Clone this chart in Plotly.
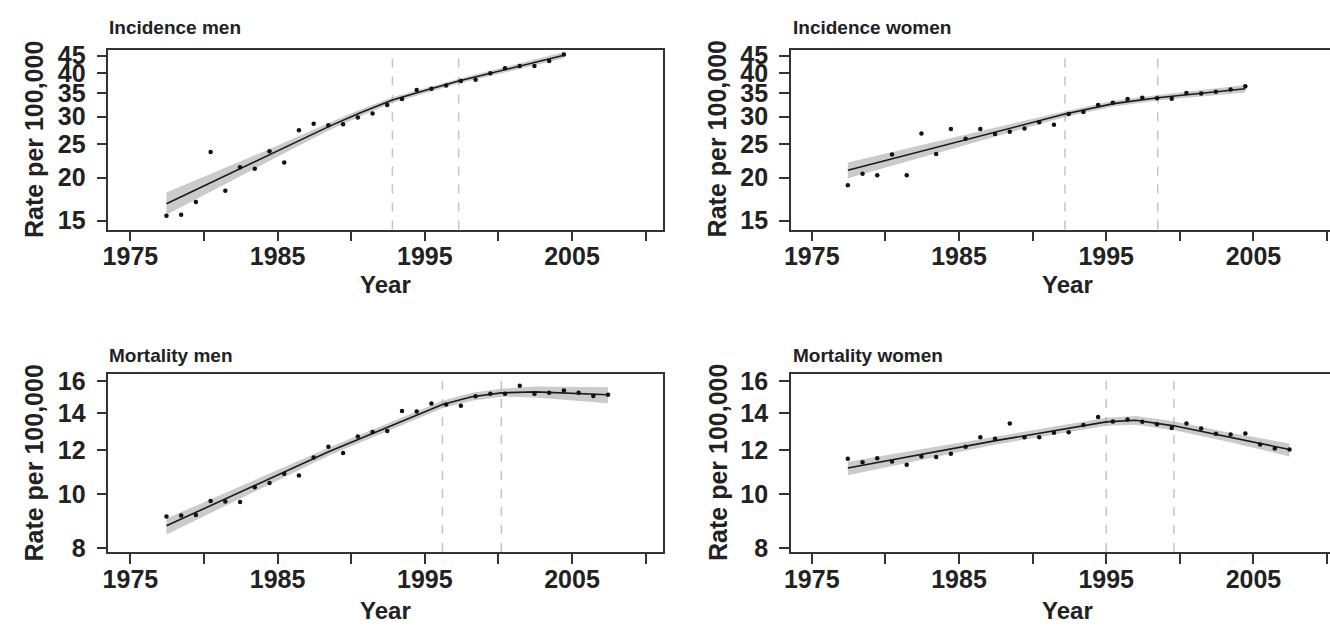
import math
import plotly.graph_objects as go

# ---------------------------------------------------------------------------
# Observed annual rates (per 100,000), plotted at mid-year
# ---------------------------------------------------------------------------
inc_years = list(range(1977, 2005))    # 1977 .. 2004
mort_years = list(range(1977, 2008))   # 1977 .. 2007

inc_men = [15.5, 15.6, 17.0, 23.7, 18.3, 21.4, 21.2, 23.8, 22.1, 27.4,
           28.6, 28.3, 28.5, 29.8, 30.6, 32.4, 33.7, 35.8, 36.1, 36.9,
           38.0, 38.3, 40.0, 41.4, 42.0, 42.0, 43.4, 45.3]
inc_women = [19.0, 20.5, 20.3, 23.3, 20.3, 26.8, 23.4, 27.6, 25.9, 27.6,
             26.7, 27.1, 27.7, 28.9, 28.4, 30.5, 30.9, 32.4, 32.9, 33.7,
             34.0, 33.9, 33.8, 35.1, 35.0, 35.4, 35.9, 36.7]
mort_men = [9.12, 9.16, 9.18, 9.73, 9.71, 9.69, 10.30, 10.48, 10.89, 10.82,
            11.65, 12.18, 11.87, 12.72, 12.96, 13.01, 14.14, 14.10, 14.58, 14.52,
            14.45, 15.02, 15.18, 15.18, 15.70, 15.18, 15.24, 15.39, 15.24, 15.04,
            15.12]
mort_women = [11.59, 11.43, 11.62, 11.46, 11.31, 11.70, 11.68, 11.84, 12.18, 12.68,
              12.60, 13.42, 12.68, 12.68, 12.91, 12.94, 13.34, 13.79, 13.53, 13.65,
              13.52, 13.38, 13.17, 13.42, 13.15, 12.86, 12.82, 12.88, 12.30, 12.10,
              12.05]

# ---------------------------------------------------------------------------
# Joinpoint fits: fitted rate with lower / upper confidence limits
# ---------------------------------------------------------------------------
inc_men_fit_x = [1977.45, 1984.5, 1988.5, 1990.5, 1992.8, 1995.0, 1997.3, 2004.45]
inc_men_fit = [16.8, 23.3, 28.1, 30.6, 33.5, 35.7, 38.0, 45.1]
inc_men_lo = [15.6, 22.4, 27.4, 29.9, 32.9, 35.1, 37.4, 44.2]
inc_men_hi = [18.1, 24.2, 28.8, 31.3, 34.1, 36.3, 38.6, 46.1]

inc_women_fit_x = [1977.45, 1987.5, 1992.2, 1995.5, 1998.5, 2004.45]
inc_women_fit = [21.0, 27.05, 30.5, 32.7, 34.0, 36.1]
inc_women_lo = [19.9, 26.3, 29.9, 32.1, 33.4, 35.2]
inc_women_hi = [22.1, 27.8, 31.1, 33.3, 34.6, 37.0]

mort_men_fit_x = [1977.45, 1988.5, 1996.2, 1998.2, 2000.2, 2002.5, 2007.45]
mort_men_fit = [8.78, 11.95, 14.52, 15.0, 15.24, 15.3, 15.12]
mort_men_lo = [8.47, 11.75, 14.3, 14.75, 15.0, 14.95, 14.6]
mort_men_hi = [9.05, 12.15, 14.75, 15.25, 15.5, 15.65, 15.6]

mort_women_fit_x = [1977.45, 1987.5, 1995.0, 1997.0, 1999.6, 2003.5, 2007.45]
mort_women_fit = [11.16, 12.5, 13.51, 13.6, 13.29, 12.65, 12.05]
mort_women_lo = [10.83, 12.3, 13.3, 13.35, 13.05, 12.4, 11.70]
mort_women_hi = [11.45, 12.7, 13.75, 13.85, 13.55, 12.9, 12.35]

# Joinpoint locations (years)
inc_men_joins = [1992.8, 1997.3]
inc_women_joins = [1992.2, 1998.5]
mort_men_joins = [1996.2, 2000.2]
mort_women_joins = [1995.0, 1999.6]

titles = ["Incidence men", "Incidence women", "Mortality men", "Mortality women"]
inc_ticks = [15, 20, 25, 30, 35, 40, 45]
mort_ticks = [8, 10, 12, 14, 16]
year_ticks = [1975, 1980, 1985, 1990, 1995, 2000, 2005, 2010]
year_labels = ["1975", "", "1985", "", "1995", "", "2005", ""]

# ---------------------------------------------------------------------------
# Page geometry (pixels) -> paper coordinates
# ---------------------------------------------------------------------------
W, H = 1330, 633


def px(x):
    return x / W


def py(y):
    return 1 - y / H


left_dom = [px(102), px(659)]
right_dom = [px(788), 1.0]
top_dom = [py(228), py(43)]
bot_dom = [py(560), py(377)]

left_range = [1973.51, 2011.15]
right_range = [1973.58, 2010.20]
inc_range = [math.log10(14.15), math.log10(46.78)]
mort_range = [math.log10(7.872), math.log10(16.46)]

INK = "#222222"
FONT = "Liberation Sans, Arial, sans-serif"
MID = 0.45  # plotting offset within the calendar year

panels = [
    dict(ax="", xdom=left_dom, ydom=top_dom, xr=left_range, yr=inc_range, yt=inc_ticks,
         years=inc_years, obs=inc_men, fx=inc_men_fit_x, fit=inc_men_fit,
         lo=inc_men_lo, hi=inc_men_hi, joins=inc_men_joins, mirror=True),
    dict(ax="2", xdom=right_dom, ydom=top_dom, xr=right_range, yr=inc_range, yt=inc_ticks,
         years=inc_years, obs=inc_women, fx=inc_women_fit_x, fit=inc_women_fit,
         lo=inc_women_lo, hi=inc_women_hi, joins=inc_women_joins, mirror=False),
    dict(ax="3", xdom=left_dom, ydom=bot_dom, xr=left_range, yr=mort_range, yt=mort_ticks,
         years=mort_years, obs=mort_men, fx=mort_men_fit_x, fit=mort_men_fit,
         lo=mort_men_lo, hi=mort_men_hi, joins=mort_men_joins, mirror=True),
    dict(ax="4", xdom=right_dom, ydom=bot_dom, xr=right_range, yr=mort_range, yt=mort_ticks,
         years=mort_years, obs=mort_women, fx=mort_women_fit_x, fit=mort_women_fit,
         lo=mort_women_lo, hi=mort_women_hi, joins=mort_women_joins, mirror=False),
]

fig = go.Figure()
shapes = []
layout_axes = {}
tick_font = dict(size=25, color=INK, family=FONT, weight="bold")

for p in panels:
    xa, ya = "x" + p["ax"], "y" + p["ax"]
    # confidence band
    fig.add_trace(go.Scatter(
        x=p["fx"] + p["fx"][::-1], y=p["hi"] + p["lo"][::-1],
        fill="toself", fillcolor="rgba(160,160,160,0.55)", line=dict(width=0),
        mode="lines", hoverinfo="skip", showlegend=False, xaxis=xa, yaxis=ya))
    # fitted trend
    fig.add_trace(go.Scatter(
        x=p["fx"], y=p["fit"], mode="lines", line=dict(color="#1a1a1a", width=1.6),
        showlegend=False, xaxis=xa, yaxis=ya))
    # observed rates
    fig.add_trace(go.Scatter(
        x=[yr + MID for yr in p["years"]], y=p["obs"], mode="markers",
        marker=dict(color="#111111", size=4.5), showlegend=False, xaxis=xa, yaxis=ya))
    # joinpoint markers
    for j in p["joins"]:
        shapes.append(dict(type="line", xref=xa, yref=ya + " domain", x0=j, x1=j, y0=0, y1=1,
                           line=dict(color="#c4c4c4", width=1.5, dash="dash"), layer="below"))

    key = p["ax"]
    layout_axes["xaxis" + key] = dict(
        domain=p["xdom"], range=p["xr"], anchor=ya, tickvals=year_ticks, ticktext=year_labels,
        ticks="outside", ticklen=10, tickwidth=1.6, tickcolor="#333333",
        showline=True, linecolor="#333333", linewidth=1.6, mirror=True,
        showgrid=False, zeroline=False, tickfont=tick_font,
        ticklabelstandoff=-6, fixedrange=True)
    layout_axes["yaxis" + key] = dict(
        domain=p["ydom"], range=p["yr"], type="log", anchor=xa, tickvals=p["yt"],
        ticktext=[str(t) for t in p["yt"]],
        ticks="outside", ticklen=10, tickwidth=1.6, tickcolor="#333333",
        showline=True, linecolor="#333333", linewidth=1.6, mirror=p["mirror"],
        showgrid=False, zeroline=False, tickfont=tick_font,
        ticklabelstandoff=6, fixedrange=True)

annotations = []
# panel titles
for t, (x0, y0) in zip(titles, [(101, 20), (788, 20), (101, 358), (788, 358)]):
    annotations.append(dict(text="<b>" + t + "</b>", x=px(x0), y=py(y0), xref="paper", yref="paper",
                            xanchor="left", yanchor="middle", showarrow=False,
                            font=dict(size=19, color=INK, family=FONT)))
# axis titles
for (x0, y0) in [(380, 285), (1066, 285), (380, 620), (1066, 620)]:
    annotations.append(dict(text="<b>Year</b>", x=px(x0), y=py(y0), xref="paper", yref="paper",
                            xanchor="center", yanchor="middle", showarrow=False,
                            font=dict(size=24, color=INK, family=FONT)))
for (x0, y0) in [(27, 135), (714, 135), (27, 468), (714, 468)]:
    annotations.append(dict(text="<b>Rate per 100,000</b>", x=px(x0), y=py(y0),
                            xref="paper", yref="paper",
                            xanchor="center", yanchor="middle", textangle=-90, showarrow=False,
                            font=dict(size=25, color=INK, family=FONT)))

fig.update_layout(
    width=W, height=H, margin=dict(l=0, r=0, t=0, b=0),
    paper_bgcolor="white", plot_bgcolor="white",
    shapes=shapes, annotations=annotations, showlegend=False,
    **layout_axes)

fig.write_html("out.html", config={"displayModeBar": False})

# keep the figure flush with the page edges
with open("out.html", encoding="utf-8") as fh:
    page = fh.read()
page = page.replace("<head>", "<head><style>html,body{margin:0;padding:0;overflow:hidden}</style>", 1)
with open("out.html", "w", encoding="utf-8") as fh:
    fh.write(page)
